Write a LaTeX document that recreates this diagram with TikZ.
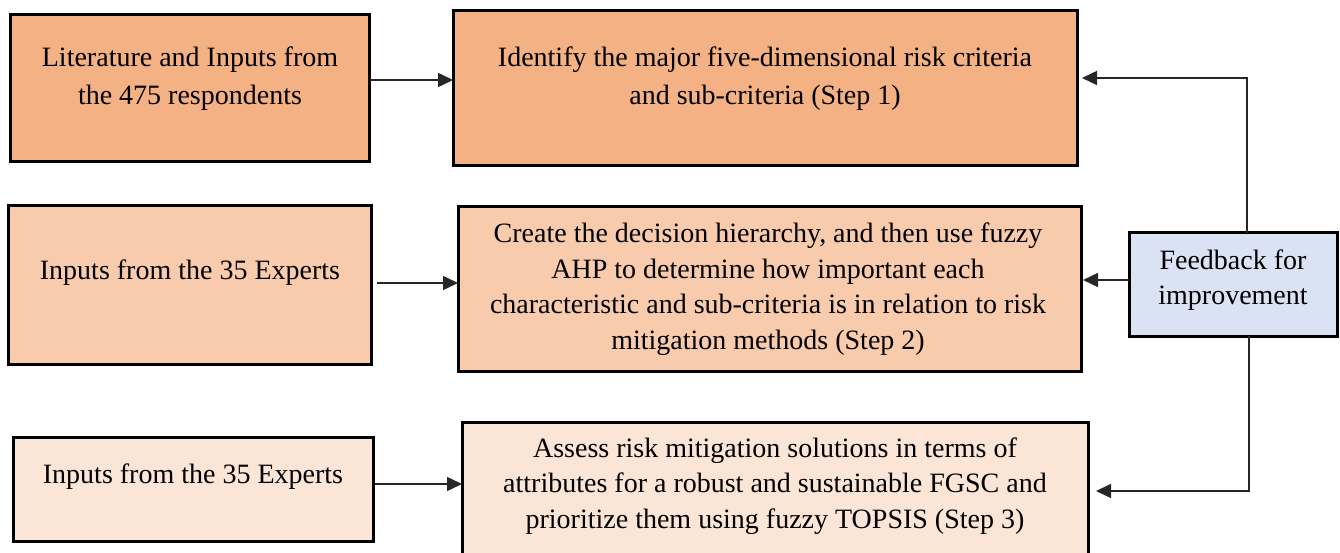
\documentclass[tikz,border=0pt]{standalone}
\usepackage{fontspec}
\setmainfont{Liberation Serif}
\usetikzlibrary{arrows.meta}
\definecolor{orA}{HTML}{F4B183}
\definecolor{orB}{HTML}{F8CBAD}
\definecolor{orC}{HTML}{FBE5D6}
\definecolor{blA}{HTML}{DAE3F3}
\definecolor{lnc}{HTML}{262626}
\begin{document}
\begin{tikzpicture}[x=1pt,y=-1pt,
  box/.style={draw=black,line width=3pt,anchor=north west,inner sep=0pt,outer sep=0pt},
  txt/.style={align=center,font=\fontsize{28}{35.5}\selectfont,inner sep=0pt},
  txtw/.style={align=center,font=\fontsize{28}{38}\selectfont,inner sep=0pt},
  arr/.style={draw=lnc,line width=1.5pt,-{Triangle[length=15pt,width=14pt]}}]
\clip (0,0) rectangle (1340,553);
\fill[white] (0,0) rectangle (1340,553);
% boxes
\node[box,fill=orA,minimum width=359pt,minimum height=147pt] (L1) at (10,15) {};
\node[box,fill=orA,minimum width=624pt,minimum height=155pt] (R1) at (453,11) {};
\node[box,fill=orB,minimum width=363pt,minimum height=158pt] (L2) at (8,206) {};
\node[box,fill=orB,minimum width=623pt,minimum height=164pt] (R2) at (458,207) {};
\node[box,fill=orC,minimum width=360pt,minimum height=104pt] (L3) at (13,437) {};
\node[box,fill=orC,minimum width=626pt,minimum height=160pt] (R3) at (462,422) {};
\node[box,fill=blA,minimum width=208pt,minimum height=103pt] (FB) at (1129,233) {};
% texts
\node[txtw] (tL1) at (190,79) {Literature and Inputs from\\the 475 respondents};
\node[txtw] (tR1) at (765,79) {Identify the major five-dimensional risk criteria\\and sub-criteria (Step 1)};
\node[txt] (tL2) at (190,273) {Inputs from the 35 Experts};
\node[txt] (tR2) at (768,289) {Create the decision hierarchy, and then use fuzzy\\AHP to determine how important each\\characteristic and sub-criteria is in relation to risk\\mitigation methods (Step 2)};
\node[txt] (tL3) at (193,477) {Inputs from the 35 Experts};
\node[txt] (tR3) at (775,486) {Assess risk mitigation solutions in terms of\\attributes for a robust and sustainable FGSC and\\prioritize them using fuzzy TOPSIS (Step 3)};
\node[txt] (tFB) at (1233,280) {Feedback for\\improvement};
% connector helpers
\coordinate (y1) at (0,80);
\coordinate (y2) at (0,283);
\coordinate (y3) at (0,484);
\coordinate (yt) at (0,78);
\coordinate (ym) at (0,280);
\coordinate (yb) at (0,491);
\coordinate (xu) at (1247,0);
\coordinate (xd) at (1249,0);
% connectors
\draw[arr,shorten <=1pt] (L1.east |- y1) -- (R1.west |- y1);
\draw[arr,shorten <=6pt] (L2.east |- y2) -- (R2.west |- y2);
\draw[arr,shorten <=2pt] (L3.east |- y3) -- (R3.west |- y3);
\draw[arr,shorten >=5pt] (FB.north -| xu) |- (R1.east |- yt);
\draw[arr,shorten >=2pt] (FB.west |- ym) -- (R2.east |- ym);
\draw[arr,shorten >=8pt] (FB.south -| xd) |- (R3.east |- yb);
\end{tikzpicture}
\end{document}
